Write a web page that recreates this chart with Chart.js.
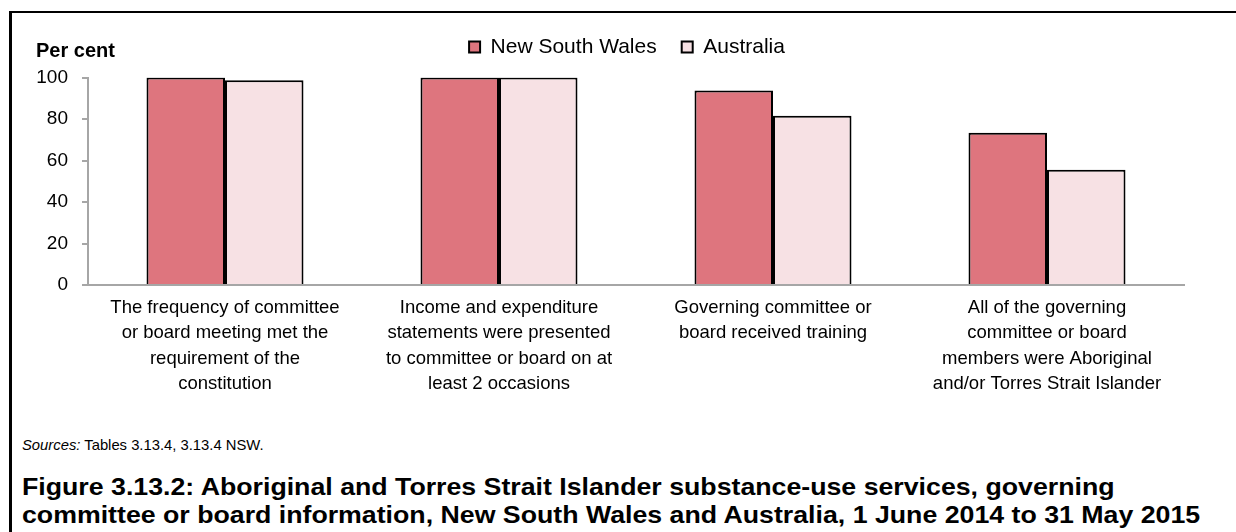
<!DOCTYPE html>
<html>
<head>
<meta charset="utf-8">
<script src="https://cdn.jsdelivr.net/npm/chart.js@4.4.1/dist/chart.umd.min.js"></script>
<style>
    html, body { margin: 0; padding: 0; background: #fff; }
    body { width: 1236px; height: 532px; position: relative; overflow: hidden; font-family: "Liberation Sans", Arial, sans-serif; color: #000; }
    .frame { position: absolute; left: 9px; top: 11px; width: 1300px; height: 600px; border-left: 3px solid #000; border-top: 2px solid #000; }
    #chartMain { position: absolute; left: 0; top: 0; }
    .sources { position: absolute; left: 22px; top: 436px; font-size: 14.8px; line-height: 18px; white-space: nowrap; }
    .caption { position: absolute; left: 22px; top: 473px; font-size: 24px; line-height: 28px; font-weight: bold; white-space: nowrap; transform: scaleX(1.113); transform-origin: left top; }
</style>
</head>
<body>
<div class="frame"></div>
<canvas id="chartMain" width="1236" height="420"></canvas>
<div class="sources"><i>Sources:</i> Tables 3.13.4, 3.13.4 NSW.</div>
<div class="caption">Figure 3.13.2: Aboriginal and Torres Strait Islander substance-use services, governing<br>committee or board information, New South Wales and Australia, 1 June 2014 to 31 May 2015</div>

<script>
const categories = [
    ['The frequency of committee', 'or board meeting met the', 'requirement of the', 'constitution'],
    ['Income and expenditure', 'statements were presented', 'to committee or board on at', 'least 2 occasions'],
    ['Governing committee or', 'board received training'],
    ['All of the governing', 'committee or board', 'members were Aboriginal', 'and/or Torres Strait Islander']
];
const nswValues = [100, 100, 93.7, 73.4];
const ausValues = [98.7, 100, 81.6, 55.5];
const yTicks = [0, 20, 40, 60, 80, 100];

const FONT = '"Liberation Sans", Arial, sans-serif';
const AXIS_GREY = '#a6a6a6';

// legend: extra gap under it, and centred over the plot rather than the canvas
const legendTweak = {
    id: 'legendTweak',
    beforeLayout(chart) {
        const lg = chart.legend;
        if (!lg || lg._patched) return;
        const fit = lg.fit;
        lg.fit = function () {
            fit.call(this);
            this.height += 10;
        };
        lg._patched = true;
    },
    afterLayout(chart) {
        const lg = chart.legend;
        lg.left += 20;
        lg.right += 20;
    }
};

// "Per cent" label over the y axis
const perCent = {
    id: 'perCent',
    afterDraw(chart) {
        const ctx = chart.ctx;
        ctx.save();
        ctx.font = 'bold 20px ' + FONT;
        ctx.fillStyle = '#000';
        ctx.textAlign = 'left';
        ctx.textBaseline = 'middle';
        ctx.fillText('Per cent', 36, 51);
        ctx.restore();
    }
};

new Chart(document.getElementById('chartMain'), {
    type: 'bar',
    data: {
        labels: categories,
        datasets: [
            { label: 'New South Wales', data: nswValues, backgroundColor: '#de757e', borderColor: '#000', borderWidth: 2 },
            { label: 'Australia', data: ausValues, backgroundColor: '#f7e1e4', borderColor: '#000', borderWidth: 2 }
        ]
    },
    plugins: [legendTweak, perCent],
    options: {
        responsive: false,
        animation: false,
        barPercentage: 1,
        categoryPercentage: 0.573,
        layout: { padding: { left: 30, right: 52, top: 11.5, bottom: 13 } },
        plugins: {
            legend: {
                position: 'top',
                labels: {
                    boxWidth: 11, boxHeight: 11, padding: 25,
                    color: '#000',
                    font: { family: FONT, size: 21 }
                }
            },
            tooltip: { enabled: false }
        },
        scales: {
            x: {
                grid: { display: true, drawOnChartArea: false, drawTicks: false },
                border: { display: true, color: AXIS_GREY, width: 2 },
                ticks: {
                    color: '#000', padding: 10, maxRotation: 0, autoSkip: false,
                    font: { family: FONT, size: 18.5, lineHeight: 25.5 / 18.5 }
                }
            },
            y: {
                min: 0, max: 100,
                afterFit: (scale) => { scale.width = 58; },
                afterBuildTicks: (scale) => { scale.ticks = yTicks.map(v => ({ value: v })); },
                grid: { drawOnChartArea: false, tickLength: 6, color: AXIS_GREY, lineWidth: 2 },
                border: { display: true, color: AXIS_GREY, width: 2 },
                ticks: {
                    color: '#000', padding: 14,
                    font: { family: FONT, size: 19 }
                }
            }
        }
    }
});
</script>
</body>
</html>
